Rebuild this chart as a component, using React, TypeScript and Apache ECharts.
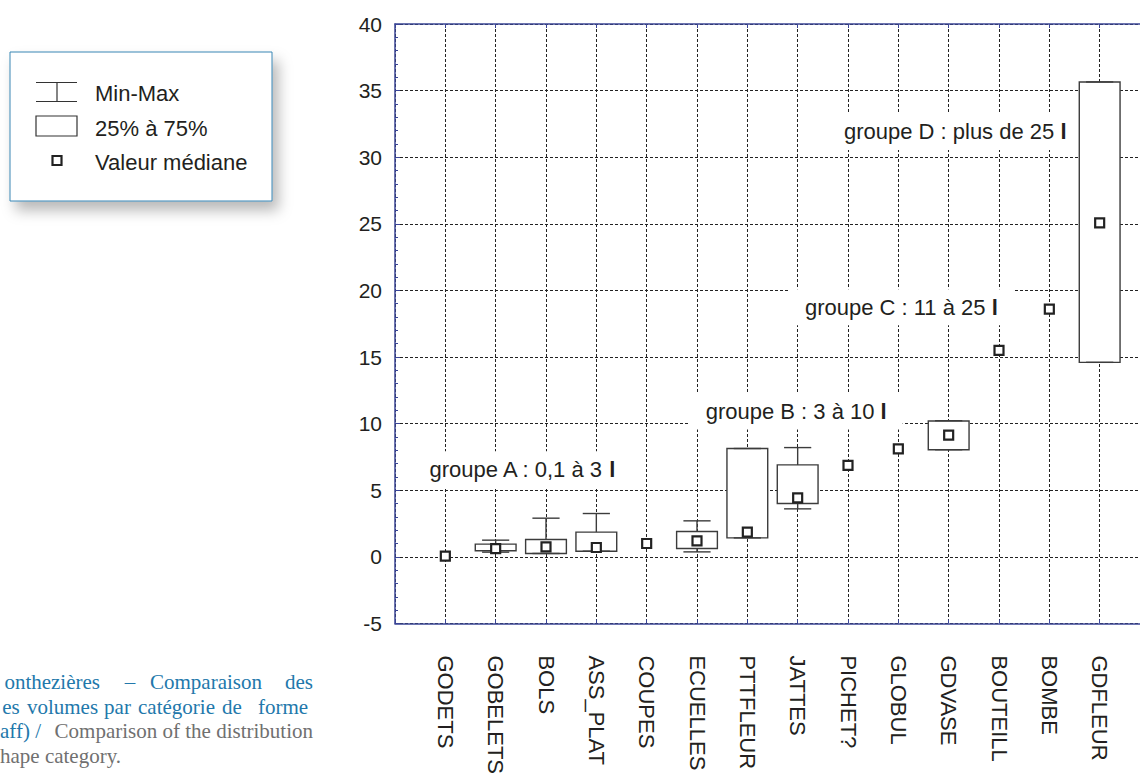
import React, { useEffect, useRef } from 'react';
import * as echarts from 'echarts';

const categories = ['GODETS', 'GOBELETS', 'BOLS', 'ASS_PLAT', 'COUPES', 'ECUELLES', 'PTTFLEUR', 'JATTES', 'PICHET?', 'GLOBUL', 'GDVASE', 'BOUTEILL', 'BOMBE', 'GDFLEUR'];
const minValues = [0.05, 0.35, 0.25, 0.42, 1.0, 0.37, 1.42, 3.6, 6.87, 8.1, 8.04, 15.5, 18.6, 14.6];
const q1Values = [0.05, 0.45, 0.25, 0.42, 1.0, 0.62, 1.42, 4.0, 6.87, 8.1, 8.04, 15.5, 18.6, 14.6];
const medianValues = [0.05, 0.62, 0.75, 0.7, 1.0, 1.2, 1.85, 4.43, 6.87, 8.1, 9.13, 15.5, 18.6, 25.07];
const q3Values = [0.05, 0.95, 1.3, 1.85, 1.0, 1.9, 8.13, 6.9, 6.87, 8.1, 10.2, 15.5, 18.6, 35.65];
const maxValues = [0.05, 1.25, 2.9, 3.25, 1.0, 2.7, 8.13, 8.2, 6.87, 8.1, 10.22, 15.5, 18.6, 35.65];

const yMin = -5;
const yMax = 40;
const yInterval = 5;

const groupLabels = ['groupe A : 0,1 à 3 ', 'groupe B : 3 à 10 ', 'groupe C : 11 à 25 ', 'groupe D : plus de 25 '];
const groupLabelX = [2.52, 7.97, 10.06, 11.13];
const groupLabelY = [6.57, 10.9, 18.73, 31.9];

const legendItems = ['Min-Max', '25% à 75%', 'Valeur médiane'];

const captionLine1 = ['onthezières', '–', 'Comparaison', 'des'];
const captionLine2 = ['es', 'volumes', 'par', 'catégorie', 'de', 'forme'];
const captionLine3Blue = 'aff) /';
const captionLine3Grey = 'Comparison of the distribution';
const captionLine4 = 'hape category.';

const AXIS_BLUE = '#3a4595';
const INK = '#231f20';
const BOX = '#3c3c3c';
const CAP_BLUE = '#2278ab';
const CAP_GREY = '#707070';
const SANS = '"Liberation Sans", Arial, sans-serif';
const SERIF = '"Liberation Serif", "Times New Roman", serif';

export default function App() {
  const ref = useRef<HTMLDivElement>(null);

  useEffect(() => {
    if (!ref.current) return;
    const chart = echarts.init(ref.current, null, { renderer: 'svg' });

    const boxData = categories.map((_, i) => [i + 1, minValues[i], q1Values[i], medianValues[i], q3Values[i], maxValues[i]]);
    const medianData = categories.map((_, i) => [i + 1, medianValues[i]]);
    const labelData = groupLabels.map((t, i) => ({ value: [groupLabelX[i], groupLabelY[i]], name: t }));

    const capText = (text: string, x: number, y: number, fill: string, align: string = 'left') => ({
      type: 'text',
      x,
      y,
      style: { text, fontSize: 21, fontFamily: SERIF, fill, verticalAlign: 'middle', align },
    });

    const line1X = [100, 130, 206, 313];
    const line1Align = ['right', 'center', 'center', 'right'];
    const line2X = [11, 62.5, 117.5, 176.5, 232, 283];

    const option: any = {
      animation: false,
      backgroundColor: '#ffffff',
      grid: { left: 395, right: 0, top: 24, bottom: 147, containLabel: false },
      xAxis: [
        {
          type: 'value',
          min: 0,
          max: 15,
          interval: 1,
          position: 'bottom',
          axisLine: { show: true, onZero: false, lineStyle: { color: AXIS_BLUE, width: 1.5 } },
          axisTick: { show: true, inside: true, length: 4, lineStyle: { color: AXIS_BLUE } },
          axisLabel: {
            show: true,
            rotate: -90,
            margin: 32,
            fontSize: 22,
            fontFamily: SANS,
            color: INK,
            formatter: (v: number) => categories[v - 1] ?? '',
          },
          splitLine: { show: true, lineStyle: { color: '#222', width: 1, type: [3, 2] } },
        },
        {
          type: 'value',
          min: 0,
          max: 15,
          interval: 1,
          position: 'top',
          axisLine: { show: true, onZero: false, lineStyle: { color: AXIS_BLUE, width: 1.5 } },
          axisTick: { show: true, inside: true, length: 4, lineStyle: { color: AXIS_BLUE } },
          axisLabel: { show: false },
          splitLine: { show: false },
        },
      ],
      yAxis: {
        type: 'value',
        min: yMin,
        max: yMax,
        interval: yInterval,
        axisLine: { show: true, onZero: false, lineStyle: { color: AXIS_BLUE, width: 1.5 } },
        axisTick: { show: true, inside: true, length: 5, lineStyle: { color: AXIS_BLUE } },
        minorTick: { show: true, splitNumber: 5, length: 3, lineStyle: { color: AXIS_BLUE } },
        axisLabel: { fontSize: 21, fontFamily: SANS, color: INK, margin: 13 },
        splitLine: { show: true, lineStyle: { color: '#222', width: 1, type: [3, 2] } },
      },
      series: [
        {
          type: 'scatter',
          name: 'labels',
          xAxisIndex: 0,
          data: labelData,
          symbolSize: 0,
          z: 3,
          silent: true,
          itemStyle: { opacity: 1 },
          label: {
            show: true,
            position: 'inside',
            opacity: 1,
            formatter: (p: any) => '{t|' + p.name + '}{b|l}',
            backgroundColor: '#ffffff',
            padding: [7, 16],
            rich: {
              t: { fontSize: 22, fontFamily: SANS, color: INK },
              b: { fontSize: 22, fontFamily: SANS, color: INK, fontWeight: 'bold' },
            },
          },
        },
        {
          type: 'custom',
          name: 'boxes',
          xAxisIndex: 0,
          z: 4,
          encode: { x: 0, y: [1, 2, 3, 4, 5] },
          data: boxData,
          renderItem: (params: any, api: any) => {
            const x = api.value(0);
            const mn = api.value(1);
            const q1 = api.value(2);
            const q3 = api.value(4);
            const mx = api.value(5);
            if (q3 - q1 < 0.01) return { type: 'group', children: [] };
            const pMin = api.coord([x, mn]);
            const pQ1 = api.coord([x, q1]);
            const pQ3 = api.coord([x, q3]);
            const pMax = api.coord([x, mx]);
            const bw = api.size([0.81, 0])[0];
            const cw = api.size([0.54, 0])[0];
            const ls = { stroke: BOX, lineWidth: 1.4, fill: 'none' };
            return {
              type: 'group',
              children: [
                { type: 'line', shape: { x1: pMax[0], y1: pMax[1], x2: pQ3[0], y2: pQ3[1] }, style: ls },
                { type: 'line', shape: { x1: pQ1[0], y1: pQ1[1], x2: pMin[0], y2: pMin[1] }, style: ls },
                {
                  type: 'rect',
                  shape: { x: pQ3[0] - bw / 2, y: pQ3[1], width: bw, height: pQ1[1] - pQ3[1] },
                  style: { stroke: BOX, lineWidth: 1.4, fill: '#ffffff' },
                },
                { type: 'line', shape: { x1: pMax[0] - cw / 2, y1: pMax[1], x2: pMax[0] + cw / 2, y2: pMax[1] }, style: ls },
                { type: 'line', shape: { x1: pMin[0] - cw / 2, y1: pMin[1], x2: pMin[0] + cw / 2, y2: pMin[1] }, style: ls },
              ],
            };
          },
        },
        {
          type: 'scatter',
          name: 'median',
          xAxisIndex: 0,
          z: 5,
          data: medianData,
          symbol: 'rect',
          symbolSize: 9,
          itemStyle: { color: '#ffffff', borderColor: '#222', borderWidth: 2.2, opacity: 1 },
        },
      ],
      graphic: [
        {
          type: 'group',
          children: [
            {
              type: 'rect',
              shape: { x: 10, y: 52, width: 262, height: 149 },
              style: {
                fill: '#ffffff',
                stroke: '#3a86b4',
                lineWidth: 1,
                shadowBlur: 14,
                shadowOffsetX: 6,
                shadowOffsetY: 9,
                shadowColor: 'rgba(0,0,0,0.28)',
              },
            },
            { type: 'line', shape: { x1: 36, y1: 82.5, x2: 77, y2: 82.5 }, style: { stroke: '#333', lineWidth: 1.2 } },
            { type: 'line', shape: { x1: 36, y1: 101.5, x2: 77, y2: 101.5 }, style: { stroke: '#333', lineWidth: 1.2 } },
            { type: 'line', shape: { x1: 57, y1: 82.5, x2: 57, y2: 101.5 }, style: { stroke: '#333', lineWidth: 1.2 } },
            { type: 'rect', shape: { x: 36, y: 116, width: 41, height: 20 }, style: { fill: '#fff', stroke: '#333', lineWidth: 1.2 } },
            { type: 'rect', shape: { x: 52.5, y: 156, width: 9, height: 9 }, style: { fill: '#fff', stroke: '#222', lineWidth: 2.2 } },
            { type: 'text', x: 95, y: 93, style: { text: legendItems[0], fontSize: 22, fontFamily: SANS, fill: INK, verticalAlign: 'middle' } },
            { type: 'text', x: 95, y: 128, style: { text: legendItems[1], fontSize: 22, fontFamily: SANS, fill: INK, verticalAlign: 'middle' } },
            { type: 'text', x: 95, y: 162, style: { text: legendItems[2], fontSize: 22, fontFamily: SANS, fill: INK, verticalAlign: 'middle' } },

            ...captionLine1.map((w, i) => capText(w, line1X[i], 682, CAP_BLUE, line1Align[i])),
            ...captionLine2.map((w, i) => capText(w, line2X[i], 707, CAP_BLUE, 'center')),
            capText(captionLine3Blue, 0, 731, CAP_BLUE),
            capText(captionLine3Grey, 313, 731, CAP_GREY, 'right'),
            capText(captionLine4, 0, 756, CAP_GREY),
          ],
        },
      ],
    };

    chart.setOption(option);
    return () => {
      chart.dispose();
    };
  }, []);

  return <div ref={ref} style={{ position: 'fixed', left: 0, top: 0, width: 1150, height: 777 }} />;
}
